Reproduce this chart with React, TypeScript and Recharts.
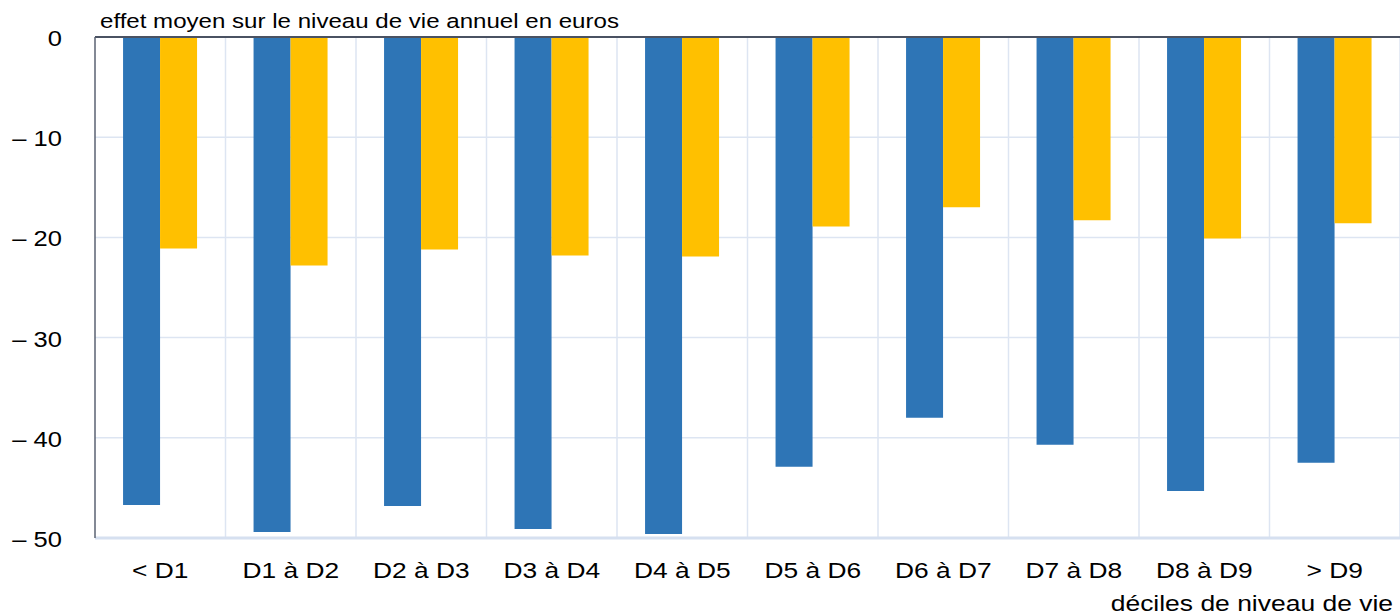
import React from "react";
import { BarChart, Bar, XAxis, YAxis, CartesianGrid, ReferenceLine } from "recharts";

const categories = ["< D1", "D1 à D2", "D2 à D3", "D3 à D4", "D4 à D5", "D5 à D6", "D6 à D7", "D7 à D8", "D8 à D9", "> D9"];
const seriesBlue = [-46.7, -49.4, -46.8, -49.1, -49.6, -42.9, -38.0, -40.7, -45.3, -42.5];
const seriesYellow = [-21.1, -22.8, -21.2, -21.8, -21.9, -18.9, -17.0, -18.3, -20.1, -18.6];
const yTicks = [0, -10, -20, -30, -40, -50];
const yTitle = "effet moyen sur le niveau de vie annuel en euros";
const xTitle = "déciles de niveau de vie";

const data = categories.map((c, i) => ({ cat: c, blue: seriesBlue[i], yellow: seriesYellow[i] }));

const FONT = "'Liberation Sans', Arial, sans-serif";
const STRETCH = 1.16;

const XTick = (props: any) => {
  const { x, y, payload } = props;
  return (
    <g transform={`translate(${x},${y})`}>
      <text transform={`scale(${STRETCH},1)`} x={0} y={40} textAnchor="middle" fontSize={22.7} fontFamily={FONT} fill="#000">
        {payload.value}
      </text>
    </g>
  );
};

const YTick = (props: any) => {
  const { x, y, payload } = props;
  const v = payload.value;
  const label = v === 0 ? "0" : "\u2013 " + Math.abs(v);
  return (
    <g transform={`translate(${x - 33},${y})`}>
      <text transform={`scale(${STRETCH},1)`} x={0} y={9} textAnchor="end" fontSize={22} fontFamily={FONT} fill="#000">
        {label}
      </text>
    </g>
  );
};

export default function App() {
  return (
    <div style={{ position: "absolute", left: 0, top: 0, width: 1400, height: 616, background: "#fff" }}>
      <BarChart
        width={1400}
        height={616}
        data={data}
        margin={{ top: 37, right: 0, bottom: 0, left: 0 }}
        barCategoryGap="21.5%"
        barGap={0}
      >
        <CartesianGrid
          stroke="#dde5f2"
          strokeWidth={1.5}
          horizontal={true}
          vertical={true}
          verticalCoordinatesGenerator={({ offset }: any) =>
            categories.map((_, i) => offset.left + ((i + 1) * offset.width) / categories.length)
          }
        />
        <XAxis
          dataKey="cat"
          height={78}
          tickLine={false}
          tickSize={0}
          tickMargin={0}
          axisLine={{ stroke: "#d6e0f0", strokeWidth: 3 }}
          tick={<XTick />}
          interval={0}
        />
        <YAxis
          width={95}
          domain={[-50, 0]}
          ticks={yTicks}
          type="number"
          tickLine={false}
          tickSize={0}
          tickMargin={0}
          axisLine={{ stroke: "#5a6272", strokeWidth: 1.5 }}
          tick={<YTick />}
          interval={0}
        />
        <ReferenceLine y={0} stroke="#4a5262" strokeWidth={2} />
        <Bar dataKey="blue" fill="#2e75b6" isAnimationActive={false} />
        <Bar dataKey="yellow" fill="#ffc000" isAnimationActive={false} />
      </BarChart>
      <svg width={1400} height={616} style={{ position: "absolute", left: 0, top: 0, pointerEvents: "none" }}>
        <text transform={`translate(100,28) scale(1.175,1)`} fontSize={20.5} fontFamily={FONT} fill="#000">
          {yTitle}
        </text>
        <text transform={`translate(1393,611) scale(${STRETCH},1)`} textAnchor="end" fontSize={22.8} fontFamily={FONT} fill="#000">
          {xTitle}
        </text>
      </svg>
    </div>
  );
}
